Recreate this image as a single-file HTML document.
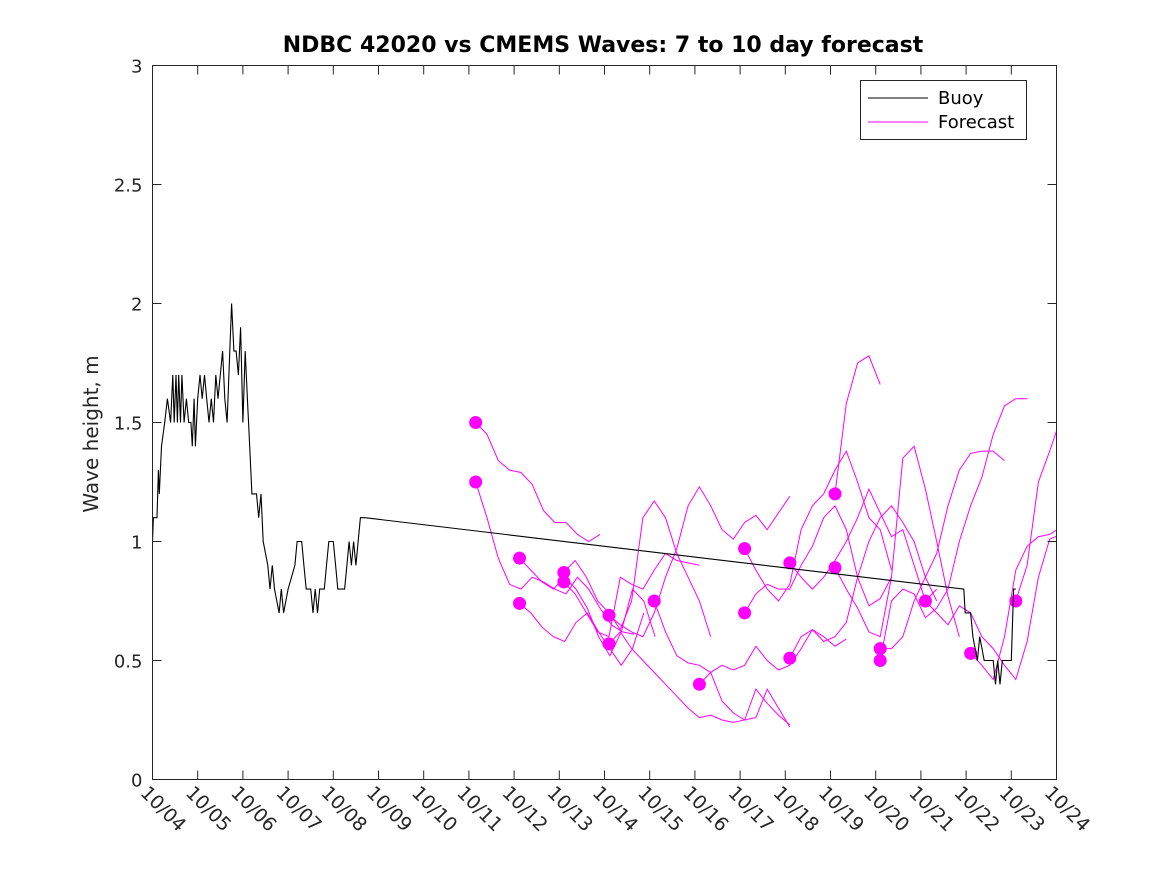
<!DOCTYPE html>
<html><head><meta charset="utf-8"><style>
html,body{margin:0;padding:0;background:#fff;}
svg{display:block;font-family:"DejaVu Sans","Liberation Sans",sans-serif;}
</style></head><body>
<svg id="chart" width="1167" height="875" viewBox="0 0 1167 875">
<defs><clipPath id="plotclip"><rect x="152.5" y="65.5" width="904" height="714"/></clipPath></defs>
<rect x="0" y="0" width="1167" height="875" fill="#fff"/>
<text x="603" y="52" text-anchor="middle" font-size="22" font-weight="bold" fill="#000">NDBC 42020 vs CMEMS Waves: 7 to 10 day forecast</text>
<text transform="translate(98,434) rotate(-90)" text-anchor="middle" font-size="20" fill="#262626">Wave height, m</text>
<g id="series" clip-path="url(#plotclip)"></g>
<rect x="152.5" y="65.5" width="904" height="714" fill="none" stroke="#262626" stroke-width="1"/>
<g id="axes"></g>
<g>
<rect x="860.5" y="80.5" width="166" height="59" fill="#fff" stroke="#262626"/>
<line x1="868" y1="98" x2="928" y2="98" stroke="#000"/>
<text x="938" y="104" font-size="18" fill="#000">Buoy</text>
<line x1="868" y1="122" x2="928" y2="122" stroke="#ff00ff"/>
<text x="938" y="128" font-size="18" fill="#000">Forecast</text>
</g>
</svg>
<script>
const xTickLabels = ["10/04","10/05","10/06","10/07","10/08","10/09","10/10","10/11","10/12","10/13","10/14","10/15","10/16","10/17","10/18","10/19","10/20","10/21","10/22","10/23","10/24"];
const yTicks = [0,0.5,1,1.5,2,2.5,3];
const yTickLabels = ["0","0.5","1","1.5","2","2.5","3"];
const buoyDays = [0,0.02,0.1,0.13,0.15,0.2,0.27,0.33,0.4,0.45,0.48,0.52,0.55,0.58,0.62,0.65,0.7,0.75,0.8,0.85,0.88,0.92,0.95,1.0,1.05,1.1,1.15,1.2,1.25,1.3,1.35,1.4,1.45,1.5,1.55,1.6,1.65,1.75,1.8,1.85,1.9,1.95,2.0,2.05,2.1,2.15,2.2,2.3,2.35,2.4,2.45,2.55,2.6,2.65,2.7,2.8,2.85,2.9,3.0,3.15,3.2,3.3,3.35,3.4,3.5,3.55,3.6,3.65,3.7,3.8,3.85,3.9,4.0,4.05,4.1,4.25,4.3,4.35,4.4,4.45,4.5,4.6,4.7,17.95,17.98,18.1,18.15,18.25,18.3,18.4,18.6,18.65,18.7,18.75,18.8,19.0,19.05,19.1];
const buoyValues = [1.0,1.1,1.1,1.3,1.2,1.4,1.5,1.6,1.5,1.7,1.5,1.7,1.5,1.7,1.5,1.7,1.5,1.6,1.5,1.5,1.4,1.6,1.4,1.6,1.7,1.6,1.7,1.6,1.5,1.6,1.5,1.7,1.6,1.7,1.8,1.6,1.5,2.0,1.8,1.8,1.7,1.9,1.5,1.8,1.6,1.4,1.2,1.2,1.1,1.2,1.0,0.9,0.8,0.9,0.8,0.7,0.8,0.7,0.8,0.9,1.0,1.0,0.9,0.8,0.8,0.7,0.8,0.7,0.8,0.8,0.9,1.0,1.0,0.9,0.8,0.8,0.9,1.0,0.9,1.0,0.9,1.1,1.1,0.8,0.7,0.7,0.6,0.5,0.6,0.5,0.5,0.4,0.5,0.4,0.5,0.5,0.8,0.8];
const forecastStartDays = [7.15,7.15,8.12,8.12,9.1,9.1,10.1,10.1,11.1,12.1,13.1,13.1,14.1,14.1,15.1,15.1,16.1,16.1,17.1,18.1,19.1];
const forecastValues = [
 [1.5,1.45,1.34,1.3,1.29,1.24,1.13,1.08,1.08,1.03,1.0,1.03],
 [1.25,1.1,0.93,0.82,0.8,0.85,0.83,0.8,0.78,0.85,0.8,0.72,0.65,0.62,0.61],
 [0.93,0.88,0.83,0.8,0.85,0.8,0.72,0.6,0.52,0.62,0.8,0.75,0.6],
 [0.74,0.7,0.64,0.6,0.58,0.66,0.7,0.62,0.55,0.48,0.55,0.7],
 [0.87,0.92,0.85,0.75,0.7,0.63,0.75,1.1,1.17,1.1,0.95,0.85,0.75,0.6],
 [0.83,0.78,0.7,0.62,0.6,0.85,0.82,0.8,0.88,0.95,0.92,0.91,0.9],
 [0.69,0.65,0.62,0.6,0.7,0.85,0.97,1.15,1.23,1.15,1.05,1.01,1.08,1.11,1.05,1.12,1.19],
 [0.57,0.62,0.55,0.5,0.45,0.4,0.35,0.3,0.26,0.27,0.25,0.24,0.25,0.38,0.32,0.27,0.23],
 [0.75,0.62,0.52,0.49,0.48,0.45,0.33,0.28,0.25,0.26,0.38,0.3,0.22],
 [0.40,0.45,0.48,0.46,0.48,0.56,0.5,0.46,0.48,0.55,0.63,0.6,0.56,0.59],
 [0.97,0.88,0.8,0.75,0.82,1.05,1.15,1.2,1.3,1.38,1.25,1.1,1.05,0.88],
 [0.70,0.78,0.82,0.8,0.8,0.9,0.98,1.1,1.15,1.05,0.85,0.73,0.76,0.85],
 [0.91,0.85,0.8,0.85,0.92,1.0,1.1,1.22,1.12,1.02,1.05,0.9,0.75,0.8],
 [0.51,0.6,0.63,0.58,0.6,0.66,0.85,1.0,1.1,1.15,1.08,1.0,0.85,0.75],
 [1.2,1.58,1.75,1.78,1.66],
 [0.89,0.8,0.72,0.62,0.6,0.85,1.35,1.4,1.22,1.0,0.77,0.6],
 [0.55,0.55,0.6,0.75,0.85,0.95,1.15,1.3,1.37,1.38,1.38,1.34],
 [0.50,0.75,0.8,0.78,0.68,0.72,0.8,1.0,1.15,1.27,1.45,1.57,1.6,1.6],
 [0.75,0.7,0.65,0.73,0.7,0.6,0.55,0.48,0.42,0.58,0.85,1.01,1.03,1.05],
 [0.53,0.48,0.42,0.6,0.88,0.98,1.02,1.03,1.06,1.04],
 [0.75,0.9,1.25,1.38,1.52]
];
const forecastStep = 0.25;

const NS = "http://www.w3.org/2000/svg";
const X0 = 152.5, X1 = 1056.5, Y0 = 779.5, Y1 = 65.5;
const xScale = d => X0 + d * (X1 - X0) / 20;
const yScale = v => Y0 - v * (Y0 - Y1) / 3;
function mk(tag, attrs, parent){ const e = document.createElementNS(NS, tag); for (const k in attrs) e.setAttribute(k, attrs[k]); parent.appendChild(e); return e; }
const axes = document.getElementById('axes');
const series = document.getElementById('series');

xTickLabels.forEach((lab, i) => {
  const x = xScale(i);
  const t1 = mk('line', {x1:x, y1:Y0, x2:x, y2:Y0-9, stroke:'#262626'}, axes);
  
  
  const t2 = mk('line', {x1:x, y1:Y1, x2:x, y2:Y1+9, stroke:'#262626'}, axes);
  
  
  const tx = mk('text', {transform:`translate(${x-13},${794}) rotate(45)`, 'font-size':19, fill:'#262626'}, axes);
  tx.textContent = lab;
  
  
});
yTicks.forEach((v, i) => {
  const y = yScale(v);
  const t1 = mk('line', {x1:X0, y1:y, x2:X0+9, y2:y, stroke:'#262626'}, axes);
  
  
  const t2 = mk('line', {x1:X1, y1:y, x2:X1-9, y2:y, stroke:'#262626'}, axes);
  
  
  const tx = mk('text', {x:X0-10, y:y+7, 'text-anchor':'end', 'font-size':18, fill:'#262626'}, axes);
  tx.textContent = yTickLabels[i];
  
  
});

forecastValues.forEach((vals, k) => {
  const s = forecastStartDays[k];
  const pts = vals.map((v, j) => xScale(s + j*forecastStep).toFixed(1) + ',' + yScale(v).toFixed(1)).join(' ');
  const pl = mk('polyline', {points:pts, fill:'none', stroke:'#ff00ff', 'stroke-width':1}, series);
  
  
  const c = mk('circle', {cx:xScale(s), cy:yScale(vals[0]), r:6.5, fill:'#ff00ff'}, series);
  
  
});

const bpts = buoyDays.map((d, i) => xScale(d).toFixed(1) + ',' + yScale(buoyValues[i]).toFixed(1)).join(' ');
const bl = mk('polyline', {points:bpts, fill:'none', stroke:'#000', 'stroke-width':1.1}, series);


</script>
</body></html>
